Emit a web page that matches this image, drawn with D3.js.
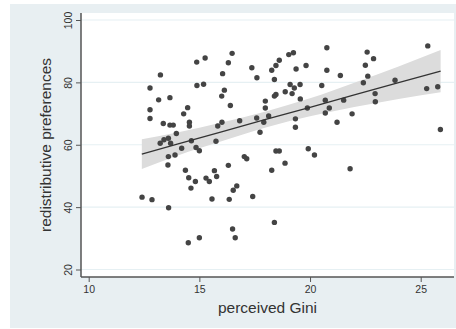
<!DOCTYPE html>
<html>
  <head>
    <meta charset="UTF-8" />
    <style>
      body {
        margin: 0;
        background: #fff;
        font-family: "Liberation Sans", Arial, sans-serif;
      }
    </style>
  </head>
  <body>
    <svg></svg>
    <script src="https://d3js.org/d3.v7.min.js"></script>
    <script>
      // scatter data
      let gini = [
        13.24, 12.77, 13.16, 13.67, 12.77, 12.77, 13.37, 13.67, 13.82, 14.29,
        14.47, 14.55, 14.55, 13.96, 14.88, 15.26, 14.89, 15.19, 13.23, 13.4,
        13.6, 13.7, 14.64, 14.2, 14.85, 15.0, 13.6, 13.9, 13.58, 14.37,
        14.52, 14.82, 15.3, 15.45, 14.62, 12.41, 12.86, 13.61, 14.5, 15.0,
        15.68, 15.78, 15.57, 16.31, 17.03, 17.14, 16.35, 16.53, 16.69, 17.41,
        16.5, 16.62, 18.27, 18.46, 18.61, 18.87, 18.39, 19.92, 20.2, 21.81,
        16.48, 16.31, 16.05, 16.13, 16.01, 16.4, 15.83, 16.02, 15.75, 16.82,
        17.37, 17.6, 17.59, 17.91, 17.74, 17.98, 17.98, 18.13, 18.27, 18.46,
        18.61, 18.39, 19.04, 19.25, 19.37, 19.82, 18.46, 18.39, 18.88, 19.1,
        19.19, 19.29, 19.55, 19.56, 19.88, 19.34, 19.34, 20.76, 20.76, 20.53,
        20.69, 20.87, 20.69, 21.37, 21.52, 21.22, 21.9, 22.58, 22.5, 22.61,
        22.87, 22.41, 22.94, 22.95, 23.84, 25.32, 25.27, 25.77, 25.89,
      ];
      let prefs = [
        82.4, 78.2, 74.4, 75.1, 71.2, 68.4, 66.8, 66.3, 66.3, 69.9,
        71.9, 67.2, 66.0, 63.6, 86.5, 87.8, 79.0, 79.4, 60.5, 61.6,
        62.1, 60.5, 61.3, 58.9, 59.1, 58.1, 56.2, 56.7, 53.5, 51.8,
        49.4, 48.2, 49.3, 48.2, 46.1, 43.2, 42.4, 39.8, 28.6, 30.2,
        51.7, 49.8, 42.6, 53.4, 56.2, 55.5, 42.5, 45.4, 46.8, 43.4,
        33.0, 30.2, 51.8, 58.0, 58.0, 54.1, 35.1, 58.7, 56.7, 52.3,
        89.3, 86.3, 82.8, 77.5, 75.6, 72.6, 66.0, 67.2, 61.1, 67.7,
        84.7, 81.5, 68.6, 67.2, 64.0, 74.0, 71.8, 69.2, 83.9, 85.4,
        87.1, 80.9, 88.9, 89.5, 84.3, 85.4, 76.1, 75.6, 77.0, 79.3,
        76.4, 78.2, 79.3, 74.7, 71.8, 68.3, 65.6, 91.1, 83.9, 79.0,
        74.3, 71.8, 70.2, 82.2, 74.3, 67.2, 69.9, 89.7, 85.5, 82.0,
        87.6, 79.9, 76.4, 73.8, 80.7, 91.7, 78.0, 78.6, 64.9,
      ];

      // fitted line and 95% band
      let fitX = [12.4, 14, 16, 18, 20, 22, 24, 25.9];
      let fitY = [57.0, 60.2, 64.1, 68.1, 72.0, 76.0, 79.9, 83.6];
      let fitLo = [52.2, 56.5, 61.1, 65.5, 69.1, 72.1, 74.7, 76.8];
      let fitHi = [61.8, 63.9, 67.1, 70.7, 74.9, 79.9, 85.1, 90.4];

      let xTicks = [10, 15, 20, 25];
      let yTicks = [20, 40, 60, 80, 100];

      let width = 456,
        height = 329;

      let svg = d3
        .select("svg")
        .attr("width", width)
        .attr("height", height);

      // outer light background
      svg
        .append("rect")
        .attr("x", 10)
        .attr("y", 4)
        .attr("width", width - 10)
        .attr("height", 324)
        .attr("fill", "#e8eff2");

      let pLeft = 81,
        pRight = 454,
        pTop = 13,
        pBottom = 277;

      svg
        .append("rect")
        .attr("x", pLeft)
        .attr("y", pTop)
        .attr("width", pRight - pLeft)
        .attr("height", pBottom - pTop)
        .attr("fill", "#fff");

      let x = d3.scaleLinear().domain([10, 25]).range([88.7, 420.7]);
      let y = d3.scaleLinear().domain([20, 100]).range([269.5, 20]);

      // gridlines
      svg
        .append("g")
        .selectAll("line")
        .data(yTicks)
        .enter()
        .append("line")
        .attr("x1", pLeft)
        .attr("x2", pRight)
        .attr("y1", (d) => y(d))
        .attr("y2", (d) => y(d))
        .attr("stroke", "#e6f0f3")
        .attr("stroke-width", 1.2);

      // confidence band
      let band = fitX.map((d, i) => ({ x: d, lo: fitLo[i], hi: fitHi[i] }));
      svg
        .append("path")
        .datum(band)
        .attr("fill", "#dcdcdc")
        .attr(
          "d",
          d3
            .area()
            .curve(d3.curveMonotoneX)
            .x((d) => x(d.x))
            .y0((d) => y(d.lo))
            .y1((d) => y(d.hi))
        );

      // points
      svg
        .append("g")
        .selectAll("circle")
        .data(gini)
        .enter()
        .append("circle")
        .attr("cx", (d) => x(d))
        .attr("cy", (d, i) => y(prefs[i]))
        .attr("r", 2.7)
        .attr("fill", "#444");

      // fit line
      svg
        .append("path")
        .datum(fitX.map((d, i) => [d, fitY[i]]))
        .attr("fill", "none")
        .attr("stroke", "#333")
        .attr("stroke-width", 1.3)
        .attr(
          "d",
          d3
            .line()
            .x((d) => x(d[0]))
            .y((d) => y(d[1]))
        );

      // axes
      let yAxis = d3
        .axisLeft(y)
        .tickValues(yTicks)
        .tickSize(5)
        .tickPadding(4)
        .tickSizeOuter(0);
      let gy = svg
        .append("g")
        .attr("transform", "translate(" + pLeft + ",0)")
        .call(yAxis);
      gy.select(".domain").remove();
      gy.append("line")
        .attr("y1", pTop)
        .attr("y2", pBottom)
        .attr("stroke", "#555")
        .attr("stroke-width", 1.5);
      gy.selectAll(".tick line").attr("stroke", "#555");
      gy.selectAll(".tick text")
        .attr("x", null)
        .attr("dy", null)
        .attr("text-anchor", "middle")
        .attr("transform", "translate(-9,0) rotate(-90)")
        .attr("fill", "#333")
        .style("font-size", "10.5px")
        .style("font-family", "'Liberation Sans', Arial, sans-serif");

      let xAxis = d3
        .axisBottom(x)
        .tickValues(xTicks)
        .tickSize(5)
        .tickPadding(4)
        .tickSizeOuter(0);
      let gx = svg
        .append("g")
        .attr("transform", "translate(0," + pBottom + ")")
        .call(xAxis);
      gx.select(".domain").remove();
      gx.append("line")
        .attr("x1", pLeft)
        .attr("x2", pRight)
        .attr("stroke", "#555")
        .attr("stroke-width", 1.5);
      gx.selectAll(".tick line").attr("stroke", "#555");
      gx.selectAll(".tick text")
        .attr("fill", "#333")
        .style("font-size", "10.5px")
        .style("font-family", "'Liberation Sans', Arial, sans-serif");

      // titles
      svg
        .append("text")
        .attr("x", (pLeft + pRight) / 2)
        .attr("y", 313)
        .attr("text-anchor", "middle")
        .attr("fill", "#333")
        .style("font-size", "15.5px")
        .text("perceived Gini");

      svg
        .append("text")
        .attr(
          "transform",
          "translate(51," + (pTop + pBottom) / 2 + ") rotate(-90)"
        )
        .attr("text-anchor", "middle")
        .attr("fill", "#333")
        .style("font-size", "15.5px")
        .text("redistributive preferences");
    </script>
  </body>
</html>
